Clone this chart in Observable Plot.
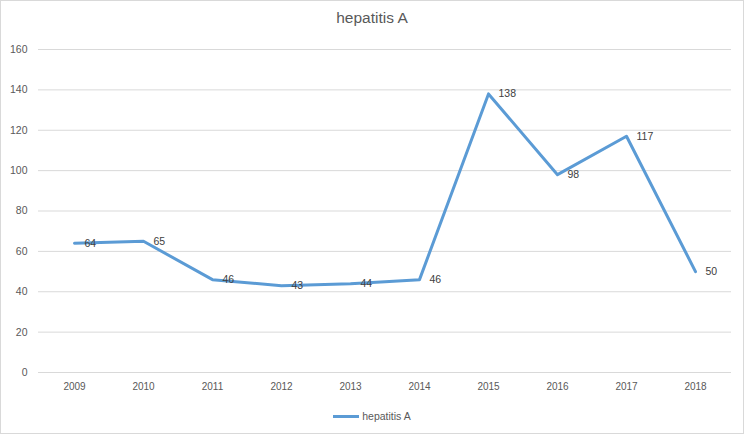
<!DOCTYPE html>
<html>
<head>
<meta charset="utf-8">
<script src="https://cdn.jsdelivr.net/npm/d3@7"></script>
<script src="https://cdn.jsdelivr.net/npm/@observablehq/plot@0.6"></script>
<style>
  html, body { margin: 0; padding: 0; background: #fff; }
  #chart { width: 742px; height: 432px; border: 1px solid #d9d9d9; position: relative; font-family: "Liberation Sans", Arial, sans-serif; overflow: hidden; }
  #title { height: 35px; line-height: 34px; text-align: center; font-size: 15.5px; color: #595959; }
  #legend { height: 20px; display: flex; justify-content: center; align-items: center; font-size: 10.5px; color: #595959; }
  #legend .sw { width: 26px; height: 3px; background: #5b9bd5; margin-right: 3px; }
  svg { display: block; }
</style>
</head>
<body>
<div id="chart">
  <div id="title">hepatitis A</div>
  <div id="plot"></div>
  <div id="legend"><span class="sw"></span><span>hepatitis A</span></div>
</div>
<script>
const years = ["2009","2010","2011","2012","2013","2014","2015","2016","2017","2018"];
const cases = [64, 65, 46, 43, 44, 46, 138, 98, 117, 50];
const yTicks = [0, 20, 40, 60, 80, 100, 120, 140, 160];

const data = years.map((y, i) => ({year: y, value: cases[i]}));

const chart = Plot.plot({
  width: 742,
  height: 370,
  marginTop: 13,
  marginBottom: 34,
  marginLeft: 37,
  marginRight: 12,
  style: {fontFamily: "Liberation Sans, Arial, sans-serif", background: "transparent"},
  x: {type: "point", domain: years, padding: 0.5, label: null},
  y: {domain: [0, 160], label: null},
  marks: [
    Plot.gridY(yTicks, {stroke: "#d9d9d9", strokeOpacity: 1, strokeWidth: 1}),
    Plot.axisY(yTicks, {tickSize: 0, tickPadding: 11, fontSize: 10.5, fill: "#595959", label: null}),
    Plot.axisX({tickSize: 0, tickPadding: 10, fontSize: 10, fill: "#595959", label: null}),
    Plot.line(data, {x: "year", y: "value", stroke: "#5b9bd5", strokeWidth: 3, strokeLinejoin: "round", strokeLinecap: "round"}),
    Plot.text(data, {x: "year", y: "value", text: d => String(d.value), textAnchor: "start", dx: 10, fontSize: 10.5, fill: "#404040"})
  ]
});
document.getElementById("plot").appendChild(chart);
</script>
</body>
</html>
